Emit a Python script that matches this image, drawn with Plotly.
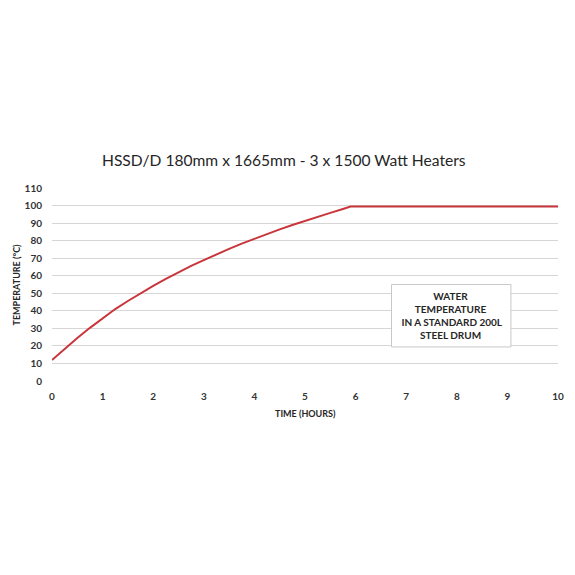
import plotly.graph_objects as go

# heating curve
hours = [0, 0.25, 0.5, 0.75, 1, 1.25, 1.5, 1.75, 2, 2.25, 2.5, 2.75, 3, 3.25,
         3.5, 3.75, 4, 4.25, 4.5, 4.75, 5, 5.25, 5.5, 5.75, 5.9, 7, 8, 9, 10]
temp_c = [12, 18.4, 24.5, 30.3, 35.8, 41, 45.6, 50, 54.2, 58.2, 62, 65.6, 68.9, 72.2,
          75.3, 78.3, 81.1, 83.8, 86.4, 88.9, 91.3, 93.6, 95.8, 98, 99.4, 99.4, 99.4, 99.4, 99.4]

x_ticks = list(range(0, 11))
y_ticks = list(range(0, 111, 10))

title_text = "HSSD/D 180mm x 1665mm - 3 x 1500 Watt Heaters"
note_lines = ["WATER", "TEMPERATURE", " IN A STANDARD 200L", "STEEL DRUM"]

font_main = "Lato, 'Open Sans', sans-serif"
tick_font = dict(family=font_main, size=10, color="#333333")

fig = go.Figure()
fig.add_trace(go.Scatter(
    x=hours, y=temp_c,
    mode="lines",
    line=dict(color="#C8363B", width=2),
    showlegend=False,
    hoverinfo="skip",
))

# page body adds ~8px, so margins are shifted to compensate
fig.update_layout(
    width=575, height=575,
    margin=dict(l=44, r=25, t=180, b=202),
    paper_bgcolor="white",
    plot_bgcolor="white",
    font=dict(family=font_main),
)

fig.update_xaxes(
    range=[0, 10], tickvals=x_ticks, ticktext=[f"<b>{v}</b>" for v in x_ticks],
    showgrid=False, zeroline=False, showline=False,
    tickfont=tick_font, ticks="", ticklabelstandoff=8,
)
fig.update_yaxes(
    range=[0, 110], tickvals=y_ticks, ticktext=[f"<b>{v}</b>" for v in y_ticks],
    showgrid=True, gridcolor="#D6D6D6", gridwidth=1,
    zeroline=False, showline=False,
    tickfont=tick_font, ticks="", ticklabelstandoff=9,
)

# chart title and axis titles
fig.add_annotation(
    text=title_text, xref="paper", yref="paper", x=0.5, y=1.0,
    xshift=-21, yshift=28, xanchor="center", yanchor="middle", showarrow=False,
    font=dict(family=font_main, size=15.6, color="#262626"),
)
fig.add_annotation(
    text="<b>TIME (HOURS)</b>", xref="paper", yref="paper", x=0.5, y=0,
    yshift=-32, xanchor="center", yanchor="middle", showarrow=False,
    font=dict(family=font_main, size=9, color="#262626"),
)
fig.add_annotation(
    text="<b>TEMPERATURE (°C)</b>", xref="paper", yref="paper", x=0, y=0.5,
    xshift=-36, xanchor="center", yanchor="middle", textangle=-90, showarrow=False,
    font=dict(family=font_main, size=9, color="#262626"),
)

# note box
fig.add_shape(
    type="rect", xref="x", yref="y", x0=6.71, x1=9.07, y0=19.4, y1=55,
    line=dict(color="#C8C8C8", width=1), fillcolor="white", layer="above",
)
fig.add_annotation(
    text="<br>".join(f"<b>{s}</b>" for s in note_lines),
    xref="x", yref="y", x=7.89, y=37.2, xanchor="center", yanchor="middle",
    showarrow=False, align="center",
    font=dict(family=font_main, size=10, color="#262626"),
)

fig.write_html("out.html")
